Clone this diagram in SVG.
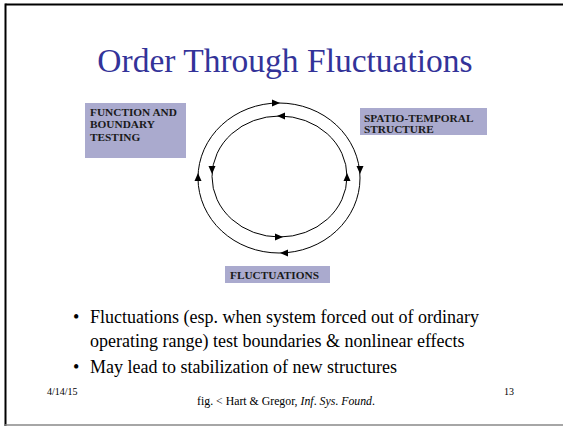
<svg xmlns="http://www.w3.org/2000/svg" width="563" height="426" viewBox="0 0 563 426">
<style>
.t{font-family:'Liberation Serif','Tinos','Times New Roman','DejaVu Serif',serif}
.lbl{font-family:'Liberation Serif','Tinos','Times New Roman','DejaVu Serif',serif;font-weight:bold;font-size:11.3px;fill:#1a1a1a}
.box{fill:#AAAACE}
.ring{fill:none;stroke:#000;stroke-width:1}
.ah{fill:#000}
.body{font-family:'Liberation Serif','Tinos','Times New Roman','DejaVu Serif',serif;font-size:18px;fill:#000}
</style>
<rect x="0" y="0" width="563" height="426" fill="#fff"/>
<line x1="5.5" y1="4.5" x2="563" y2="4.5" stroke="#000" stroke-width="2"/>
<line x1="5.5" y1="3.5" x2="5.5" y2="426" stroke="#000" stroke-width="2"/>
<line x1="5" y1="425" x2="563" y2="425" stroke="#888" stroke-width="1.5"/>
<text class="t" x="285" y="72" font-size="33.5" fill="#333399" text-anchor="middle">Order Through Fluctuations</text>
<g id="n-function">
<rect class="box" x="85" y="103" width="101" height="55"/>
<text class="lbl" x="90" y="115.5">FUNCTION AND</text>
<text class="lbl" x="90" y="128">BOUNDARY</text>
<text class="lbl" x="90" y="140.5">TESTING</text>
</g>
<g id="n-spatio">
<rect class="box" x="360" y="108" width="127" height="27"/>
<text class="lbl" x="364" y="121.5">SPATIO-TEMPORAL</text>
<text class="lbl" x="364" y="132.5">STRUCTURE</text>
</g>
<g id="n-fluct">
<rect class="box" x="225" y="266" width="105" height="17"/>
<text class="lbl" x="230" y="279">FLUCTUATIONS</text>
</g>
<g id="connectors">
<ellipse class="ring" cx="279" cy="178" rx="81" ry="75"/>
<ellipse class="ring" cx="279.5" cy="176.5" rx="67.5" ry="60.5"/>
<polygon class="ah" points="280,103 272,99.5 272,106.5"/>
<polygon class="ah" points="360,174 356.5,166 363.5,166"/>
<polygon class="ah" points="280,253 288,249.5 288,256.5"/>
<polygon class="ah" points="198,173 194.5,181 201.5,181"/>
<polygon class="ah" points="277,116 285,112.5 285,119.5"/>
<polygon class="ah" points="212,174 208.5,166 215.5,166"/>
<polygon class="ah" points="283,237 275,233.5 275,240.5"/>
<polygon class="ah" points="347,173 343.5,181 350.5,181"/>
</g>
<text class="body" x="73" y="323">•</text>
<text class="body" x="90" y="323">Fluctuations (esp. when system forced out of ordinary</text>
<text class="body" x="90" y="347">operating range) test boundaries &amp; nonlinear effects</text>
<text class="body" x="73" y="373">•</text>
<text class="body" x="90" y="373">May lead to stabilization of new structures</text>
<text class="t" x="47" y="395" font-size="10" fill="#000">4/14/15</text>
<text class="t" x="286" y="405" font-size="11.8" fill="#000" text-anchor="middle">fig. &lt; Hart &amp; Gregor, <tspan font-style="italic">Inf</tspan>. <tspan font-style="italic">Sys</tspan>. <tspan font-style="italic">Found</tspan>.</text>
<text class="t" x="504" y="395" font-size="10" fill="#000">13</text>
</svg>
